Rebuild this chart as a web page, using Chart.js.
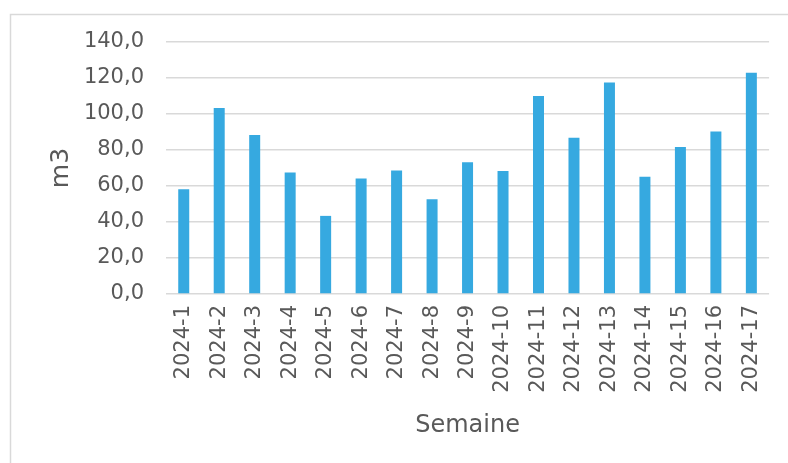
<!DOCTYPE html>
<html>
<head>
<meta charset="utf-8">
<script src="https://cdn.jsdelivr.net/npm/chart.js@4"></script>
<style>
  html, body { margin: 0; padding: 0; background: #fff; }
  #wrap { position: relative; width: 788px; height: 463px; }
</style>
</head>
<body>
<div id="wrap"><canvas id="chart" width="788" height="463"></canvas></div>
<script>
const semaines = ['2024-1', '2024-2', '2024-3', '2024-4', '2024-5', '2024-6', '2024-7', '2024-8', '2024-9',
    '2024-10', '2024-11', '2024-12', '2024-13', '2024-14', '2024-15', '2024-16', '2024-17'];
const volumes = [58.2, 103.4, 88.4, 67.5, 43.4, 64.1, 68.6, 52.6, 73.2,
    68.4, 110.0, 86.8, 117.5, 65.1, 81.6, 90.3, 122.9];
const yMin = 0;
const yMax = 140;
const yStep = 20;

const textColor = '#595959';
const gridColor = '#d9d9d9';
const fontFamily = '"DejaVu Sans", sans-serif';

// light frame around the chart, like the spreadsheet chart box
const frame = {
    id: 'frame',
    beforeDraw(chart) {
        const ctx = chart.ctx;
        ctx.save();
        ctx.fillStyle = '#fff';
        ctx.fillRect(0, 0, chart.width, chart.height);
        ctx.strokeStyle = gridColor;
        ctx.lineWidth = 1.5;
        ctx.beginPath();
        ctx.moveTo(10.5, chart.height + 5);
        ctx.lineTo(10.5, 14.5);
        ctx.lineTo(chart.width + 5, 14.5);
        ctx.stroke();
        ctx.restore();
    }
};

new Chart(document.getElementById('chart'), {
    type: 'bar',
    data: {
        labels: semaines,
        datasets: [{
            label: 'm3',
            data: volumes,
            backgroundColor: '#36a9e0',
            borderWidth: 0,
            barPercentage: 0.31,
            categoryPercentage: 1
        }]
    },
    options: {
        responsive: false,
        animation: false,
        layout: { padding: { left: 10, top: 42, right: 15, bottom: 18 } },
        plugins: { legend: { display: false }, tooltip: { enabled: false } },
        scales: {
            x: {
                grid: { display: false, drawTicks: false },
                border: { display: false },
                ticks: {
                    color: textColor,
                    font: { family: fontFamily, size: 21 },
                    minRotation: 90,
                    maxRotation: 90,
                    padding: 11,
                    autoSkip: false
                },
                title: {
                    display: true,
                    text: 'Semaine',
                    color: textColor,
                    font: { family: fontFamily, size: 24 },
                    padding: { top: 4, bottom: 5 }
                },
                afterFit(scale) { scale.height = 151; }
            },
            y: {
                min: yMin,
                max: yMax,
                grid: { color: gridColor, lineWidth: 1.5, drawTicks: false },
                border: { display: false },
                ticks: {
                    stepSize: yStep,
                    color: textColor,
                    font: { family: fontFamily, size: 21 },
                    padding: 22,
                    callback: v => v.toFixed(1).replace('.', ',')
                },
                title: {
                    display: true,
                    text: 'm3',
                    color: textColor,
                    font: { family: fontFamily, size: 25 },
                    padding: { top: 36, bottom: 0 }
                },
                afterFit(scale) { scale.width = 156; }
            }
        }
    },
    plugins: [frame]
});
</script>
</body>
</html>
